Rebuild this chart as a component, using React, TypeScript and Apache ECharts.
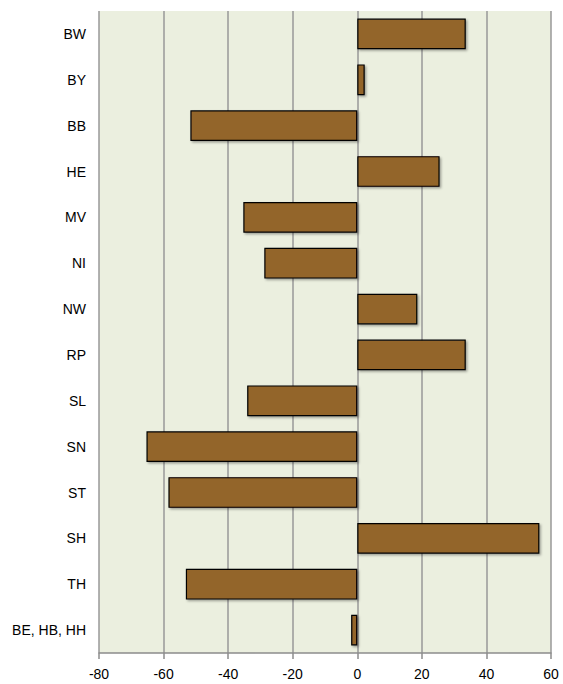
import React, { useEffect, useRef } from "react";
import * as echarts from "echarts";

const categories = ["BW", "BY", "BB", "HE", "MV", "NI", "NW", "RP", "SL", "SN", "ST", "SH", "TH", "BE, HB, HH"];
const values = [33.6, 2.3, -51.7, 25.5, -35.3, -28.8, 18.6, 33.6, -34.1, -65.3, -58.5, 56.4, -53.1, -1.9];
const xTicks = { min: -80, max: 60, interval: 20 };

export default function App() {
  const ref = useRef<HTMLDivElement>(null);
  useEffect(() => {
    const chart = echarts.init(ref.current!, null, { renderer: "svg" });
    chart.setOption({
      animation: false,
      grid: {
        left: 99,
        right: 12,
        top: 11,
        bottom: 31,
        show: true,
        backgroundColor: "#EBEFDF",
        borderWidth: 0,
      },
      xAxis: {
        type: "value",
        min: xTicks.min,
        max: xTicks.max,
        interval: xTicks.interval,
        axisLine: { show: true, lineStyle: { color: "#8c8c8c", width: 1.5 } },
        axisTick: { show: true, length: 6, lineStyle: { color: "#8c8c8c", width: 1.5 } },
        axisLabel: { color: "#000", fontSize: 14, fontFamily: "Liberation Sans, Arial, sans-serif", margin: 14 },
        splitLine: { show: true, lineStyle: { color: "#999", width: 1.5 } },
      },
      yAxis: {
        type: "category",
        data: categories,
        inverse: true,
        axisLine: { show: false },
        axisTick: { show: false },
        axisLabel: { color: "#000", fontSize: 14, fontFamily: "Liberation Sans, Arial, sans-serif", margin: 13 },
        splitLine: { show: false },
      },
      series: [
        {
          type: "bar",
          data: values,
          barCategoryGap: "33%",
          itemStyle: {
            color: "#93652A",
            borderColor: "#000",
            borderWidth: 1.2,
            shadowColor: "rgba(0,0,0,0.35)",
            shadowBlur: 2,
            shadowOffsetX: 1.5,
            shadowOffsetY: 1.5,
          },
        },
      ],
    });
    return () => chart.dispose();
  }, []);
  return <div ref={ref} style={{ width: 563, height: 684, position: "absolute", left: 0, top: 0 }} />;
}
